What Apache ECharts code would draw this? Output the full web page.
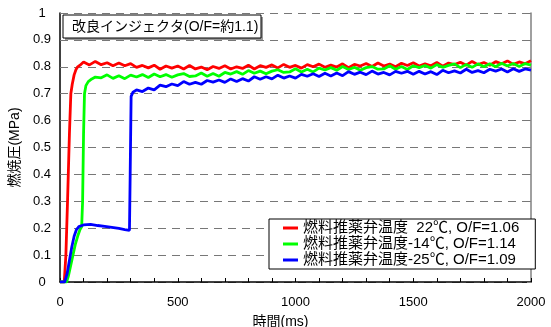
<!DOCTYPE html>
<html>
<head>
<meta charset="utf-8">
<script src="https://cdn.jsdelivr.net/npm/echarts@6/dist/echarts.min.js"></script>
<style>
  html, body { margin: 0; padding: 0; background: #fff; }
  #main { width: 551px; height: 327px; }
</style>
</head>
<body>
<div id="main"></div>
<script>
var seriesNames = [
  '燃料推薬弁温度  22℃, O/F=1.06',
  '燃料推薬弁温度-14℃, O/F=1.14',
  '燃料推薬弁温度-25℃, O/F=1.09'
];
var titleText = '改良インジェクタ(O/F=約1.1)';

// [time(ms), pressure(MPa)]
var redData = [
  [0, 0], [18, 0], [25, 0.1], [32, 0.3], [40, 0.55], [46, 0.7], [52, 0.735], [60, 0.77], [68, 0.79], [75, 0.8], [85, 0.806],
  [100, 0.818], [125, 0.807], [150, 0.82], [175, 0.808], [200, 0.815], [225, 0.804], [250, 0.814], [275, 0.804],
  [300, 0.812], [325, 0.798], [350, 0.805], [375, 0.796], [400, 0.806], [425, 0.791], [450, 0.803], [475, 0.795],
  [500, 0.803], [525, 0.792], [550, 0.805], [575, 0.792], [600, 0.799], [625, 0.789], [650, 0.801], [675, 0.794],
  [700, 0.804], [725, 0.792], [750, 0.8], [775, 0.794], [800, 0.806], [825, 0.792], [850, 0.804], [875, 0.798],
  [900, 0.807], [925, 0.796], [950, 0.809], [975, 0.798], [1000, 0.805], [1025, 0.795], [1050, 0.808], [1075, 0.8],
  [1100, 0.81], [1125, 0.798], [1150, 0.806], [1175, 0.799], [1200, 0.811], [1225, 0.797], [1250, 0.809], [1275, 0.803],
  [1300, 0.812], [1325, 0.801], [1350, 0.814], [1375, 0.803], [1400, 0.81], [1425, 0.8], [1450, 0.813], [1475, 0.805],
  [1500, 0.815], [1525, 0.803], [1550, 0.811], [1575, 0.804], [1600, 0.816], [1625, 0.802], [1650, 0.814], [1675, 0.808],
  [1700, 0.817], [1725, 0.806], [1750, 0.82], [1775, 0.808], [1800, 0.816], [1825, 0.806], [1850, 0.819], [1875, 0.811],
  [1900, 0.822], [1925, 0.809], [1950, 0.818], [1975, 0.811], [2000, 0.823]
];

var greenData = [
  [0, 0], [28, 0], [35, 0.02], [45, 0.06], [55, 0.1], [65, 0.14], [75, 0.17], [85, 0.195], [92, 0.205],
  [96, 0.3], [100, 0.55], [104, 0.7], [110, 0.73], [120, 0.745], [135, 0.755], [150, 0.762],
  [175, 0.759], [200, 0.77], [225, 0.757], [250, 0.767], [275, 0.756], [300, 0.769], [325, 0.762], [350, 0.771],
  [375, 0.76], [400, 0.773], [425, 0.763], [450, 0.771], [475, 0.761], [500, 0.77], [525, 0.775], [550, 0.764],
  [575, 0.766], [600, 0.777], [625, 0.765], [650, 0.775], [675, 0.765], [700, 0.779], [725, 0.773], [750, 0.782],
  [775, 0.772], [800, 0.786], [825, 0.776], [850, 0.784], [875, 0.774], [900, 0.784], [925, 0.789], [950, 0.779],
  [975, 0.781], [1000, 0.793], [1025, 0.781], [1050, 0.791], [1075, 0.781], [1100, 0.795], [1125, 0.788], [1150, 0.797],
  [1175, 0.787], [1200, 0.801], [1225, 0.79], [1250, 0.798], [1275, 0.787], [1300, 0.797], [1325, 0.801], [1350, 0.791],
  [1375, 0.792], [1400, 0.804], [1425, 0.791], [1450, 0.801], [1475, 0.79], [1500, 0.804], [1525, 0.797], [1550, 0.805],
  [1575, 0.795], [1600, 0.808], [1625, 0.798], [1650, 0.805], [1675, 0.811], [1700, 0.797], [1725, 0.809], [1750, 0.798],
  [1775, 0.811], [1800, 0.8], [1825, 0.811], [1850, 0.8], [1875, 0.813], [1900, 0.803], [1925, 0.812], [1950, 0.801],
  [1975, 0.812], [2000, 0.806]
];

var blueData = [
  [0, 0], [20, 0], [30, 0.03], [40, 0.08], [50, 0.13], [60, 0.17], [70, 0.195], [80, 0.206], [100, 0.212],
  [130, 0.214], [160, 0.21], [190, 0.207], [220, 0.203], [250, 0.199], [275, 0.195], [295, 0.192],
  [298, 0.4], [302, 0.69], [310, 0.706], [325, 0.714], [350, 0.708], [375, 0.721], [400, 0.714], [425, 0.732],
  [450, 0.726], [475, 0.736], [500, 0.73], [525, 0.745], [550, 0.735], [575, 0.742], [600, 0.735], [625, 0.749],
  [650, 0.743], [675, 0.751], [700, 0.742], [725, 0.755], [750, 0.745], [775, 0.756], [800, 0.747], [825, 0.763],
  [850, 0.754], [875, 0.763], [900, 0.755], [925, 0.769], [950, 0.758], [975, 0.766], [1000, 0.758], [1025, 0.772],
  [1050, 0.765], [1075, 0.774], [1100, 0.764], [1125, 0.776], [1150, 0.766], [1175, 0.777], [1200, 0.767], [1225, 0.782],
  [1250, 0.772], [1275, 0.78], [1300, 0.771], [1325, 0.784], [1350, 0.773], [1375, 0.779], [1400, 0.77], [1425, 0.783],
  [1450, 0.776], [1475, 0.783], [1500, 0.772], [1525, 0.783], [1550, 0.773], [1575, 0.782], [1600, 0.771], [1625, 0.787],
  [1650, 0.778], [1675, 0.785], [1700, 0.777], [1725, 0.791], [1750, 0.779], [1775, 0.786], [1800, 0.778], [1825, 0.791],
  [1850, 0.784], [1875, 0.792], [1900, 0.781], [1925, 0.793], [1950, 0.783], [1975, 0.792], [2000, 0.788]
];

var xTicks = { min: 0, max: 2000, interval: 500 };
var yTicks = { min: 0, max: 1, interval: 0.1 };
var yGridValues = [0.1, 0.2, 0.3, 0.4, 0.5, 0.6, 0.7, 0.8, 0.9, 1.0];

var FONT = "'Liberation Sans', 'Noto Sans CJK JP', sans-serif";
var GRID_LINE = { color: '#777', width: 1, type: [8, 6] };

var chart = echarts.init(document.getElementById('main'));

var option = {
  backgroundColor: '#fff',
  animation: false,
  textStyle: { fontFamily: FONT, color: '#000' },
  grid: { left: 60, right: 20, top: 13, bottom: 45, outerBoundsMode: 'none' },
  legend: {
    orient: 'vertical',
    left: 269,
    top: 219,
    padding: [1, 16, 1, 14],
    itemGap: 0,
    itemWidth: 15,
    itemHeight: 3,
    icon: 'rect',
    backgroundColor: '#fff',
    borderColor: '#000',
    borderWidth: 1,
    borderRadius: 0,
    textStyle: { fontFamily: FONT, fontSize: 15, color: '#000', lineHeight: 16 },
    data: seriesNames
  },
  xAxis: {
    type: 'value',
    min: xTicks.min,
    max: xTicks.max,
    interval: xTicks.interval,
    name: '時間(ms)',
    nameLocation: 'middle',
    nameGap: 33,
    nameTextStyle: { fontFamily: FONT, fontSize: 14, color: '#000', padding: [0, 30, 0, 0] },
    axisLine: { lineStyle: { color: '#000', width: 1.5 } },
    axisTick: { show: true, inside: true, length: 4, lineStyle: { color: '#000' } },
    minorTick: { show: true, splitNumber: 5, length: 4, lineStyle: { color: '#000', width: 1 } },
    axisLabel: {
      fontSize: 13, color: '#000', margin: 14, fontFamily: FONT,
      formatter: function (v) { return String(v); }
    },
    splitLine: { show: false }
  },
  yAxis: [{
    type: 'value',
    min: yTicks.min,
    max: yTicks.max,
    interval: yTicks.interval,
    name: '燃焼圧(MPa)',
    nameLocation: 'middle',
    nameGap: 38,
    nameRotate: 90,
    nameTextStyle: { fontFamily: FONT, fontSize: 14, color: '#000' },
    axisLine: { show: true, lineStyle: { color: '#000', width: 1.5 } },
    axisTick: { show: false },
    axisLabel: {
      fontSize: 13, color: '#000', margin: 18, align: 'center', fontFamily: FONT,
      formatter: function (v) { return String(Math.round(v * 10) / 10); }
    },
    splitLine: { show: true, lineStyle: GRID_LINE }
  }, {
    type: 'value',
    position: 'right',
    min: yTicks.min,
    max: yTicks.max,
    interval: yTicks.interval,
    axisLine: { show: true, lineStyle: { color: '#808080', width: 1.5 } },
    axisTick: { show: true, inside: true, length: 4, lineStyle: { color: '#808080' } },
    axisLabel: { show: false },
    splitLine: { show: false }
  }],
  series: [
    { name: seriesNames[0], type: 'line', data: redData, color: '#ff0000' },
    { name: seriesNames[1], type: 'line', data: greenData, color: '#00ff00' },
    { name: seriesNames[2], type: 'line', data: blueData, color: '#0000ff' }
  ].map(function (s) {
    s.showSymbol = false;
    s.symbol = 'none';
    s.lineStyle = { width: 2.8, color: s.color };
    s.itemStyle = { color: s.color };
    return s;
  }),
  graphic: [
    { type: 'rect', shape: { x: 65, y: 17, width: 198, height: 23 }, style: { fill: '#999' }, z: 100 },
    { type: 'rect', shape: { x: 63, y: 15, width: 198, height: 23 }, style: { fill: '#fff', stroke: '#000', lineWidth: 1 }, z: 101 },
    {
      type: 'text', x: 72, y: 27, z: 102,
      style: { text: titleText, font: "14px " + FONT, fill: '#000', verticalAlign: 'middle' }
    }
  ]
};

// dashed horizontal grid, placed under the curves
option.series[0].markLine = {
  silent: true,
  z: 1,
  symbol: 'none',
  label: { show: false },
  emphasis: { disabled: true },
  lineStyle: GRID_LINE,
  data: yGridValues.map(function (v) { return { yAxis: v }; })
};

chart.setOption(option);
</script>
</body>
</html>
